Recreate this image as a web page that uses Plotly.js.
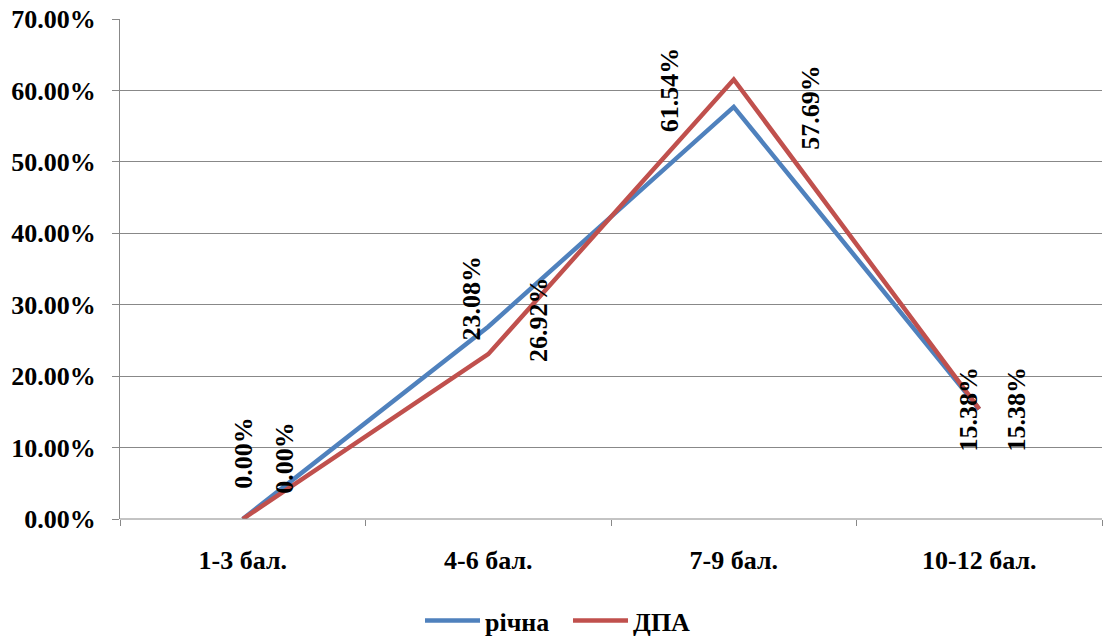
<!DOCTYPE html>
<html>
<head>
<meta charset="utf-8">
<script src="https://cdn.plot.ly/plotly-3.0.1.min.js"></script>
<style>html,body{margin:0;padding:0;background:#fff;}#chart{width:1103px;height:644px;}</style>
</head>
<body>
<div id="chart"></div>
<script>
// Data
const categories = ["1-3 бал.", "4-6 бал.", "7-9 бал.", "10-12 бал."];
const richna = [0.0, 0.2692, 0.5769, 0.1538];   // річна (blue)
const dpa = [0.0, 0.2308, 0.6154, 0.1538];      // ДПА (red)
const yTicks = [0, 0.1, 0.2, 0.3, 0.4, 0.5, 0.6, 0.7];

// label placement (pixel shifts only)
const dpaLabelShift = [[0, 66], [-17, 56], [-64, -10], [-11, 0]];
const richnaLabelShift = [[41, 61], [50, 7], [77, 0], [37, 0]];

const FONT = "Liberation Serif";
const fmt = v => (v * 100).toFixed(2) + "%";
const bfont = (s) => ({family: FONT, size: s, color: "#000", weight: "bold"});

const annotations = [];
categories.forEach((c, i) => {
  annotations.push({x: c, y: dpa[i], xref: "x", yref: "y", text: fmt(dpa[i]),
    showarrow: false, textangle: -90, xshift: dpaLabelShift[i][0], yshift: dpaLabelShift[i][1],
    font: bfont(26)});
  annotations.push({x: c, y: richna[i], xref: "x", yref: "y", text: fmt(richna[i]),
    showarrow: false, textangle: -90, xshift: richnaLabelShift[i][0], yshift: richnaLabelShift[i][1],
    font: bfont(26)});
});

const traces = [
  {x: categories, y: richna, type: "scatter", mode: "lines", name: "річна",
   line: {color: "#4F81BD", width: 4.5}, cliponaxis: false},
  {x: categories, y: dpa, type: "scatter", mode: "lines", name: "ДПА",
   line: {color: "#C0504D", width: 4.5}, cliponaxis: false}
];

const layout = {
  width: 1103, height: 644,
  margin: {l: 120, r: 1, t: 19, b: 124},
  paper_bgcolor: "#fff", plot_bgcolor: "#fff",
  font: bfont(26),
  showlegend: true,
  legend: {orientation: "h", x: 0.3055, xanchor: "left", y: -0.2475, yanchor: "bottom",
    font: bfont(26), itemwidth: 55, entrywidth: 78, entrywidthmode: "pixels"},
  xaxis: {type: "category", range: [-0.5, 3.5], showgrid: false, zeroline: false,
    showline: false, ticks: "outside", tickson: "boundaries", ticklen: 6, tickcolor: "#888",
    tickwidth: 1, ticklabelstandoff: 23, tickfont: bfont(26)},
  yaxis: {range: [0, 0.7], tickvals: yTicks, tickformat: ".2%", showgrid: true,
    gridcolor: "#888", gridwidth: 1, zeroline: false, showline: true, linecolor: "#888",
    linewidth: 1, ticks: "outside", ticklen: 7, tickcolor: "#888", tickwidth: 1,
    ticklabelstandoff: 11, tickfont: bfont(26)},
  annotations: annotations,
  shapes: [{type: "line", xref: "paper", yref: "paper", x0: 0, x1: 1, y0: 0, y1: 0,
    line: {color: "#888", width: 1}}]
};

Plotly.newPlot("chart", traces, layout, {staticPlot: true, displayModeBar: false});
</script>
</body>
</html>
